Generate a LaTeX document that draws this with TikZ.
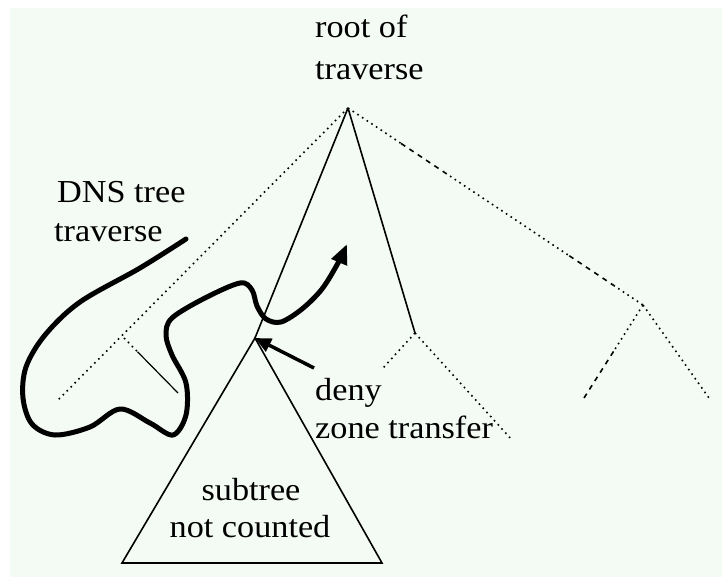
\documentclass[tikz,border=0pt]{standalone}
\usepackage{fontspec}
\setmainfont[FakeStretch=1.07]{Liberation Serif}
\usetikzlibrary{arrows.meta,calc}
\definecolor{bgc}{RGB}{244,250,244}
\tikzset{
  treeline/.style={line width=1.6pt},
  dotline/.style={line width=1.6pt,dash pattern=on 1.6pt off 4pt},
  dashline/.style={line width=1.6pt,dash pattern=on 5pt off 5pt},
  thick curve/.style={line width=5pt,line join=round,line cap=round},
  lbl/.style={inner sep=0pt,font=\fontsize{32}{38}\selectfont}
}
\begin{document}
\begin{tikzpicture}[x=1pt,y=-1pt]
\useasboundingbox (0,0) rectangle (722,577);
\fill[white] (0,0) rectangle (722,577);
\fill[bgc] (10,8) rectangle (722,577);

% tree points
\coordinate (root) at (348,108);
\coordinate (apex) at (255,338);
\coordinate (bl) at (122,563);
\coordinate (br) at (382,563);
\coordinate (mid) at (415,333);
\coordinate (midl) at (383,368);
\coordinate (midr) at (512,440);
\coordinate (rb) at (643,305);
\coordinate (rbl) at (584,398);
\coordinate (rbr) at (709,398);
\coordinate (lleaf) at (57,401);
\coordinate (lbr) at (124,338);
\coordinate (lbrend) at (178,393);

% solid tree lines
\draw[treeline] (root) -- (apex);
\draw[treeline] (root) -- (mid);
\draw[treeline,line join=miter] (bl) -- (apex) -- (br) -- cycle;

% dotted branches
\draw[dotline] (root) -- (lleaf);
\draw[dotline] (lbr) -- ($(lbr)!0.25!(lbrend)$);
\draw[line width=1.2pt] ($(lbr)!0.25!(lbrend)$) -- (lbrend);
\draw[dotline] (mid) -- (midl);
\draw[dotline] (mid) -- (midr);

% right branch with mixed pattern
\draw[dotline] (root) -- ($(root)!0.18!(rb)$);
\draw[dashline] ($(root)!0.18!(rb)$) -- ($(root)!0.33!(rb)$);
\draw[dotline] ($(root)!0.33!(rb)$) -- ($(root)!0.75!(rb)$);
\draw[dashline] ($(root)!0.75!(rb)$) -- ($(root)!0.9!(rb)$);
\draw[dotline] ($(root)!0.9!(rb)$) -- (rb);
\draw[dotline] (rb) -- ($(rb)!0.5!(rbl)$);
\draw[dashline] ($(rb)!0.5!(rbl)$) -- (rbl);
\draw[dotline] (rb) -- (rbr);

% traversal curve
\draw[thick curve,-{Triangle[length=20pt,width=16pt]}] plot[smooth,tension=0.55] coordinates {
 (186,239) (140,268) (80,302) (45,335) (26,367) (23,398) (32,424) (55,435)
 (90,427) (120,409) (150,423) (173,435) (186,415) (186,383) (172,355)
 (166,335) (172,318) (205,298) (240,283) (252,290) (257,306) (266,319)
 (281,322) (302,309) (322,289) (338,263) (347,244)};

% deny arrow
\coordinate (denytail) at (314,368);
\draw[line width=3.5pt,-{Triangle[length=16pt,width=14pt]}] (denytail) -- (apex);

% labels
\node[lbl,anchor=base west] (t1) at (315,38) {root of};
\node[lbl,anchor=base west] (t2) at (315,80) {traverse};
\node[lbl,anchor=base west] (t3) at (57,203) {DNS tree};
\node[lbl,anchor=base west] (t4) at (54,242) {traverse};
\node[lbl,anchor=base west] (t5) at (315,400) {deny};
\node[lbl,anchor=base west] (t6) at (315,438) {zone transfer};
\node[lbl,anchor=base] (t7) at (251,500) {subtree};
\node[lbl,anchor=base] (t8) at (250,537) {not counted};
\end{tikzpicture}
\end{document}
